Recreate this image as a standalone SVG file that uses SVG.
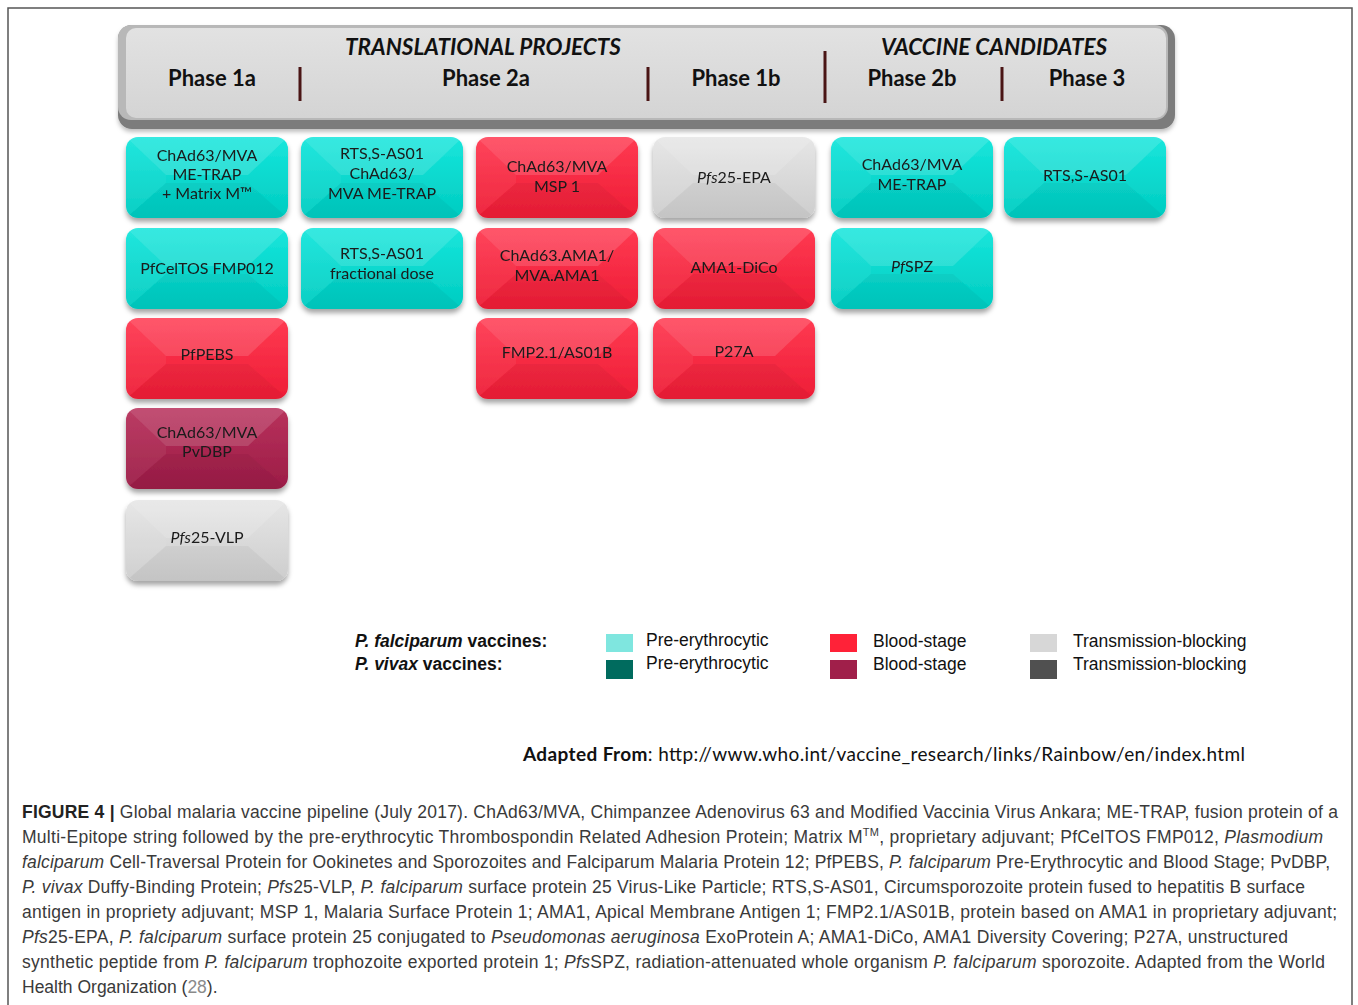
<svg xmlns="http://www.w3.org/2000/svg" xmlns:xlink="http://www.w3.org/1999/xlink" width="1358" height="1005" viewBox="0 0 1358 1005">
<style>
.bt{font-family:Lato,"Open Sans","DejaVu Sans",sans-serif;font-size:16px;fill:#1a1a1a;text-anchor:middle}
.ph{font-family:Lato,"Open Sans","DejaVu Sans",sans-serif;font-size:22px;font-weight:bold;fill:#111;text-anchor:middle}
.tt{font-family:Lato,"Open Sans","DejaVu Sans",sans-serif;font-size:22.5px;font-weight:bold;font-style:italic;fill:#111;text-anchor:middle}
.div{stroke:#4a1515;stroke-width:3}
.lg{font-family:"Liberation Sans",Arial,sans-serif;font-size:17.5px;fill:#111}
.cap{font-family:"Liberation Sans",Arial,sans-serif;font-size:17.5px;fill:#3a3a3a}
.it{font-style:italic}
.b{font-weight:bold}
.cy{fill:url(#gCy)}
.rd{fill:url(#gRd)}
.gy{fill:url(#gGy)}
.pu{fill:url(#gPu)}
.box{filter:url(#sh)}
</style>
<defs>
<linearGradient id="gCy" x1="0" y1="0" x2="0" y2="1"><stop offset="0" stop-color="#17e6dc"/><stop offset="1" stop-color="#00ccc1"/></linearGradient>
<linearGradient id="gRd" x1="0" y1="0" x2="0" y2="1"><stop offset="0" stop-color="#ff3a52"/><stop offset="1" stop-color="#ee1d36"/></linearGradient>
<linearGradient id="gGy" x1="0" y1="0" x2="0" y2="1"><stop offset="0" stop-color="#e6e6e6"/><stop offset="1" stop-color="#cdcdcd"/></linearGradient>
<linearGradient id="gPu" x1="0" y1="0" x2="0" y2="1"><stop offset="0" stop-color="#b8325c"/><stop offset="1" stop-color="#9c1c46"/></linearGradient>
<linearGradient id="gHd" x1="0" y1="0" x2="0" y2="1"><stop offset="0" stop-color="#e2e2e2"/><stop offset="1" stop-color="#d4d4d4"/></linearGradient>
<filter id="sh" x="-10%" y="-10%" width="120%" height="130%"><feDropShadow dx="0" dy="4" stdDeviation="2.5" flood-color="#000" flood-opacity="0.35"/></filter>
<filter id="sh2" x="-5%" y="-10%" width="110%" height="130%"><feDropShadow dx="0" dy="3" stdDeviation="2" flood-color="#000" flood-opacity="0.25"/></filter>
<clipPath id="bc"><rect x="0" y="0" width="162" height="81" rx="12"/></clipPath>
<g id="bevel" clip-path="url(#bc)">
<polygon points="0,0 162,0 122,38 40,38" fill="#fff" opacity="0.14"/>
<polygon points="0,0 40,38 40,46 0,81" fill="#fff" opacity="0.05"/>
<polygon points="0,81 162,81 122,46 40,46" fill="#000" opacity="0.04"/>
</g>
</defs>

<path d="M8,1005 V8 H1352 V1005" fill="none" stroke="#555" stroke-width="1.5"/>

<g id="header">
<rect x="118" y="25" width="1057" height="104" rx="14" fill="#7c7c7c" filter="url(#sh2)"/>
<rect x="118" y="25" width="1050" height="95" rx="13" fill="#b8b8b8"/>
<rect x="126" y="28" width="1040" height="90" rx="10" fill="url(#gHd)"/>
<text class="tt" x="483" y="55">TRANSLATIONAL PROJECTS</text>
<text class="tt" x="994" y="55">VACCINE CANDIDATES</text>
<text class="ph" x="212" y="86">Phase 1a</text>
<text class="ph" x="486" y="86">Phase 2a</text>
<text class="ph" x="736" y="86">Phase 1b</text>
<text class="ph" x="912" y="86">Phase 2b</text>
<text class="ph" x="1087" y="86">Phase 3</text>
<line class="div" x1="300" y1="67" x2="300" y2="101"/>
<line class="div" x1="648" y1="67" x2="648" y2="101"/>
<line class="div" x1="825" y1="51" x2="825" y2="103"/>
<line class="div" x1="1002" y1="67" x2="1002" y2="101"/>
</g>

<g id="n-chad-metrap-mm" class="box"><rect class="cy" x="126" y="137" width="162" height="81" rx="12"/><use href="#bevel" x="126" y="137"/>
<text class="bt" x="207"><tspan x="207" y="161">ChAd63/MVA</tspan><tspan x="207" y="180">ME-TRAP</tspan><tspan x="207" y="199">+ Matrix M™</tspan></text></g>
<g id="n-pfceltos" class="box"><rect class="cy" x="126" y="228" width="162" height="81" rx="12"/><use href="#bevel" x="126" y="228"/>
<text class="bt" x="207" y="274">PfCelTOS FMP012</text></g>
<g id="n-pfpebs" class="box"><rect class="rd" x="126" y="318" width="162" height="81" rx="12"/><use href="#bevel" x="126" y="318"/>
<text class="bt" x="207" y="360">PfPEBS</text></g>
<g id="n-pvdbp" class="box"><rect class="pu" x="126" y="408" width="162" height="81" rx="12"/><use href="#bevel" x="126" y="408"/>
<text class="bt" x="207"><tspan x="207" y="438">ChAd63/MVA</tspan><tspan x="207" y="457">PvDBP</tspan></text></g>
<g id="n-pfs25vlp" class="box"><rect class="gy" x="126" y="500" width="162" height="81" rx="12"/><use href="#bevel" x="126" y="500"/>
<text class="bt" x="207" y="543"><tspan class="it">Pfs</tspan>25-VLP</text></g>

<g id="n-rts-chad" class="box"><rect class="cy" x="301" y="137" width="162" height="81" rx="12"/><use href="#bevel" x="301" y="137"/>
<text class="bt" x="382"><tspan x="382" y="159">RTS,S-AS01</tspan><tspan x="382" y="179">ChAd63/</tspan><tspan x="382" y="199">MVA ME-TRAP</tspan></text></g>
<g id="n-rts-frac" class="box"><rect class="cy" x="301" y="228" width="162" height="81" rx="12"/><use href="#bevel" x="301" y="228"/>
<text class="bt" x="382"><tspan x="382" y="259">RTS,S-AS01</tspan><tspan x="382" y="279">fractional dose</tspan></text></g>

<g id="n-msp1" class="box"><rect class="rd" x="476" y="137" width="162" height="81" rx="12"/><use href="#bevel" x="476" y="137"/>
<text class="bt" x="557"><tspan x="557" y="172">ChAd63/MVA</tspan><tspan x="557" y="192">MSP 1</tspan></text></g>
<g id="n-ama1" class="box"><rect class="rd" x="476" y="228" width="162" height="81" rx="12"/><use href="#bevel" x="476" y="228"/>
<text class="bt" x="557"><tspan x="557" y="261">ChAd63.AMA1/</tspan><tspan x="557" y="281">MVA.AMA1</tspan></text></g>
<g id="n-fmp21" class="box"><rect class="rd" x="476" y="318" width="162" height="81" rx="12"/><use href="#bevel" x="476" y="318"/>
<text class="bt" x="557" y="358">FMP2.1/AS01B</text></g>

<g id="n-pfs25epa" class="box"><rect class="gy" x="653" y="137" width="162" height="81" rx="12"/><use href="#bevel" x="653" y="137"/>
<text class="bt" x="734" y="183"><tspan class="it">Pfs</tspan>25-EPA</text></g>
<g id="n-ama1dico" class="box"><rect class="rd" x="653" y="228" width="162" height="81" rx="12"/><use href="#bevel" x="653" y="228"/>
<text class="bt" x="734" y="273">AMA1-DiCo</text></g>
<g id="n-p27a" class="box"><rect class="rd" x="653" y="318" width="162" height="81" rx="12"/><use href="#bevel" x="653" y="318"/>
<text class="bt" x="734" y="357">P27A</text></g>

<g id="n-chad-metrap" class="box"><rect class="cy" x="831" y="137" width="162" height="81" rx="12"/><use href="#bevel" x="831" y="137"/>
<text class="bt" x="912"><tspan x="912" y="170">ChAd63/MVA</tspan><tspan x="912" y="190">ME-TRAP</tspan></text></g>
<g id="n-pfspz" class="box"><rect class="cy" x="831" y="228" width="162" height="81" rx="12"/><use href="#bevel" x="831" y="228"/>
<text class="bt" x="912" y="272"><tspan class="it">Pf</tspan>SPZ</text></g>

<g id="n-rts-p3" class="box"><rect class="cy" x="1004" y="137" width="162" height="81" rx="12"/><use href="#bevel" x="1004" y="137"/>
<text class="bt" x="1085" y="181">RTS,S-AS01</text></g>

<g id="connectors"></g>

<g id="legend">
<text class="lg b" x="355" y="647"><tspan class="it">P. falciparum</tspan> vaccines:</text>
<text class="lg b" x="355" y="670"><tspan class="it">P. vivax</tspan> vaccines:</text>
<rect x="606" y="634" width="27" height="18" fill="#7fe6df"/>
<rect x="606" y="660" width="27" height="19" fill="#006b5e"/>
<text class="lg" x="646" y="646">Pre-erythrocytic</text>
<text class="lg" x="646" y="669">Pre-erythrocytic</text>
<rect x="830" y="634" width="27" height="18" fill="#ff2238"/>
<rect x="830" y="660" width="27" height="19" fill="#a01f4a"/>
<text class="lg" x="873" y="647">Blood-stage</text>
<text class="lg" x="873" y="670">Blood-stage</text>
<rect x="1030" y="634" width="27" height="18" fill="#d7d7d7"/>
<rect x="1030" y="660" width="27" height="19" fill="#505050"/>
<text class="lg" x="1073" y="647">Transmission-blocking</text>
<text class="lg" x="1073" y="670">Transmission-blocking</text>
</g>

<text x="523" y="761" style="font-family:Lato,'Open Sans',sans-serif;font-size:19px;fill:#111" textLength="722"><tspan font-weight="bold">Adapted From</tspan>: http://www.who.int/vaccine_research/links/Rainbow/en/index.html</text>

<g id="caption">
<text class="cap" x="22" y="818" textLength="1316"><tspan class="b" fill="#222">FIGURE 4 |</tspan> Global malaria vaccine pipeline (July 2017). ChAd63/MVA, Chimpanzee Adenovirus 63 and Modified Vaccinia Virus Ankara; ME-TRAP, fusion protein of a</text>
<text class="cap" x="22" y="843" textLength="1301">Multi-Epitope string followed by the pre-erythrocytic Thrombospondin Related Adhesion Protein; Matrix M<tspan font-size="11" dy="-7">TM</tspan><tspan dy="7">, proprietary adjuvant; PfCelTOS FMP012, </tspan><tspan class="it">Plasmodium</tspan></text>
<text class="cap" x="22" y="868" textLength="1308"><tspan class="it">falciparum</tspan> Cell-Traversal Protein for Ookinetes and Sporozoites and Falciparum Malaria Protein 12; PfPEBS, <tspan class="it">P. falciparum</tspan> Pre-Erythrocytic and Blood Stage; PvDBP,</text>
<text class="cap" x="22" y="893" textLength="1283"><tspan class="it">P. vivax</tspan> Duffy-Binding Protein; <tspan class="it">Pfs</tspan>25-VLP, <tspan class="it">P. falciparum</tspan> surface protein 25 Virus-Like Particle; RTS,S-AS01, Circumsporozoite protein fused to hepatitis B surface</text>
<text class="cap" x="22" y="918" textLength="1315">antigen in propriety adjuvant; MSP 1, Malaria Surface Protein 1; AMA1, Apical Membrane Antigen 1; FMP2.1/AS01B, protein based on AMA1 in proprietary adjuvant;</text>
<text class="cap" x="22" y="943" textLength="1266"><tspan class="it">Pfs</tspan>25-EPA, <tspan class="it">P. falciparum</tspan> surface protein 25 conjugated to <tspan class="it">Pseudomonas aeruginosa</tspan> ExoProtein A; AMA1-DiCo, AMA1 Diversity Covering; P27A, unstructured</text>
<text class="cap" x="22" y="968" textLength="1303">synthetic peptide from <tspan class="it">P. falciparum</tspan> trophozoite exported protein 1; <tspan class="it">Pfs</tspan>SPZ, radiation-attenuated whole organism <tspan class="it">P. falciparum</tspan> sporozoite. Adapted from the World</text>
<text class="cap" x="22" y="993">Health Organization (<tspan fill="#8a8a8a">28</tspan>).</text>
</g>
</svg>
